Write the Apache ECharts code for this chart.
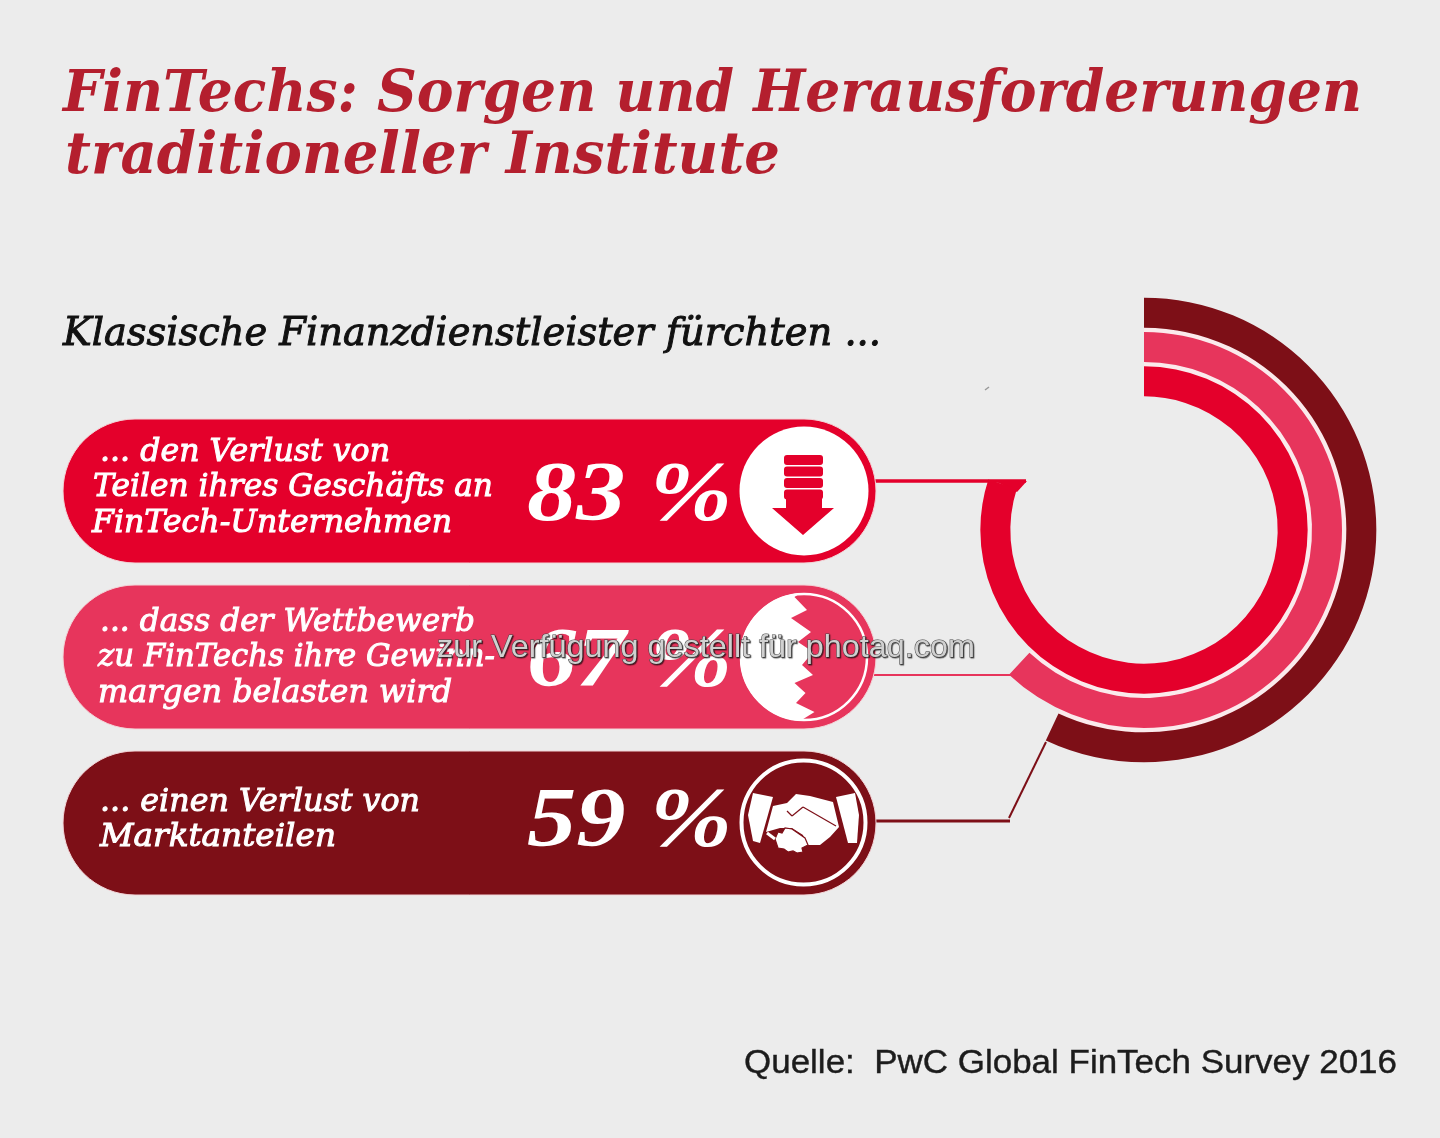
<!DOCTYPE html>
<html>
<head>
<meta charset="utf-8">
<style>
html, body { margin: 0; padding: 0; background: #ececec; }
#chart { width: 1440px; height: 1138px; }
</style>
<script src="https://cdn.jsdelivr.net/npm/echarts@6/dist/echarts.min.js"></script>
</head>
<body>
<div id="chart"></div>
<script>
// Values as printed, and how far each ring really sweeps in the picture (degrees from 12 o'clock)
const categories = ["Geschäftsverlust", "Gewinnmargen", "Marktanteile"];
const percentValues = [83, 67, 59];
const ringSweep = [288, 223, 205];
const colours = ["#e4002b", "#e7355c", "#7d0f17"];
const gapColour = "#fbeaec";
const bgColour = "#ececec";
const serif = '"DejaVu Serif", serif';
const numberSerif = '"Liberation Serif", serif';

const titleLines = ["FinTechs: Sorgen und Herausforderungen", "traditioneller Institute"];
const subtitle = "Klassische Finanzdienstleister fürchten ...";
const pillLines = [
	["... den Verlust von", "Teilen ihres Geschäfts an", "FinTech-Unternehmen"],
	["... dass der Wettbewerb", "zu FinTechs ihre Gewinn-", "margen belasten wird"],
	["... einen Verlust von", "Marktanteilen"],
];
const source = "Quelle:  PwC Global FinTech Survey 2016";
const watermark = "zur Verfügung gestellt für photaq.com";

const ctx = document.createElement("canvas").getContext("2d");

// text squeezed to a target width, canvas text has no letter spacing
function fitText(text, x, y, width, font, fill, extra) {
	ctx.font = font;
	return {
		type: "text",
		x: x,
		y: y,
		scaleX: width / ctx.measureText(text).width,
		style: Object.assign(
			{ text: text, font: font, fill: fill, textAlign: "left", textVerticalAlign: "middle" },
			extra || {}
		),
	};
}

function poly(points, fill, stroke, lineWidth) {
	return {
		type: "polygon",
		shape: { points: points },
		style: { fill: fill, stroke: stroke || null, lineWidth: lineWidth || 0 },
	};
}

function line(x1, y1, x2, y2, colour, lineWidth) {
	return {
		type: "line",
		shape: { x1: x1, y1: y1, x2: x2, y2: y2 },
		style: { stroke: colour, lineWidth: lineWidth },
	};
}

function pill(y, colour) {
	return {
		type: "rect",
		shape: { x: 63, y: y, width: 813, height: 144, r: 72 },
		style: { fill: colour, stroke: "#f3d5d8", lineWidth: 1 },
	};
}

function arrowIcon() {
	const c = colours[0];
	const rows = [455, 466.5, 478, 489.5];
	const els = [{ type: "circle", shape: { cx: 804, cy: 491, r: 64.5 }, style: { fill: "#fff" } }];
	rows.forEach((y) => {
		els.push({ type: "rect", shape: { x: 784, y: y, width: 39, height: 10, r: 3 }, style: { fill: c } });
	});
	els.push(poly([[786, 499], [822, 499], [822, 508], [834, 508], [803, 535], [772, 508], [786, 508]], c));
	return els;
}

function biteIcon() {
	const c = { x: 804, y: 657, r: 64 };
	const zigzag = [
		[800, 721], [814.5, 712], [796, 703], [805.5, 693], [794.5, 683], [813, 675], [802, 665],
		[813, 652], [798, 642], [811, 632], [791, 618], [807, 610], [794.5, 597], [800, 593],
	];
	const arc = [];
	// white side of the disc, going round the left from top to bottom
	for (let a = -94; a >= -266; a -= 4) {
		const t = (a * Math.PI) / 180;
		arc.push([c.x + c.r * Math.cos(t), c.y + c.r * Math.sin(t)]);
	}
	return [
		poly(arc.concat(zigzag), "#fff"),
		{
			type: "circle",
			shape: { cx: c.x, cy: c.y, r: c.r - 1 },
			style: { fill: "none", stroke: "#fff", lineWidth: 2.5 },
		},
	];
}

function handshakeIcon() {
	const dark = colours[2];
	return [
		{
			type: "circle",
			shape: { cx: 803.5, cy: 822.5, r: 62 },
			style: { fill: "none", stroke: "#fff", lineWidth: 4 },
		},
		poly([[753, 793], [773, 797], [760, 843], [753, 841], [748, 815]], "#fff"),
		poly([[836, 797], [855, 793], [859, 815], [857, 843], [848, 843]], "#fff"),
		poly(
			[[773, 806], [787, 803], [796, 794], [810, 796], [833, 802], [839, 827], [830, 837],
				[820, 845], [806, 845], [803, 835], [792, 828], [780, 828], [766, 832]],
			"#fff"
		),
		line(803, 807, 836, 826, dark, 1.2),
		line(787, 811, 792, 816, dark, 1.2),
		line(792, 816, 803, 807, dark, 1.2),
		poly(
			[[775, 839], [778, 832], [782, 833], [785, 828], [792, 829], [805, 838], [808, 845], [802, 848],
				[803, 852], [797, 853], [793, 851], [788, 852], [784, 849], [778, 848]],
			"#fff",
			dark,
			1.2
		),
		line(767, 833, 775, 839, "#fff", 3),
	];
}

function buildGraphic() {
	const titleFont = `italic bold 58px ${serif}`;
	const subFont = `italic 40px ${serif}`;
	const pillFont = `italic 32px ${serif}`;
	const pillY = [419, 585, 751];
	const textY = [
		[453, 488, 524],
		[623, 658, 694],
		[803, 838],
	];
	const textX = [
		[100, 93, 92],
		[100, 98, 98],
		[100, 100],
	];
	const textW = [
		[290, 400, 360],
		[375, 397, 354],
		[320, 236],
	];
	const percentY = [498, 664, 824];
	const els = [];

	els.push(fitText(titleLines[0], 63, 96, 1299, titleFont, "#b41f2e"));
	els.push(fitText(titleLines[1], 65, 158, 715, titleFont, "#b41f2e"));
	els.push(fitText(subtitle, 63, 335, 818, subFont, "#111", { stroke: "#111", lineWidth: 1 }));

	// connectors run under the pills
	els.push(line(870, 481, 1026, 481, colours[0], 3.5));
	els.push(poly([[995, 481], [1027, 481], [1017, 492]], colours[0]));
	els.push(line(870, 675, 1011, 675, colours[1], 2));
	els.push(line(870, 821, 1010, 821, colours[2], 3));
	els.push(line(1009, 818, 1046, 742, colours[2], 2));
	els.push(line(985, 390, 989, 387, "#999", 1.5));

	categories.forEach((_, i) => {
		els.push(pill(pillY[i], colours[i]));
		pillLines[i].forEach((text, j) => {
			els.push(fitText(text, textX[i][j], textY[i][j], textW[i][j], pillFont, "#fff", { stroke: "#fff", lineWidth: 1 }));
		});
		els.push(fitText(percentValues[i] + " %", 527, percentY[i], 205, `italic bold 84px ${numberSerif}`, "#fff"));
	});

	els.push(...arrowIcon(), ...biteIcon(), ...handshakeIcon());

	els.push(
		fitText(watermark, 437, 648, 538, '32px "Liberation Sans", sans-serif', "#d0d0d0", {
			stroke: "#4a4a4a",
			lineWidth: 1,
			textShadowColor: "rgba(0,0,0,0.55)",
			textShadowOffsetX: 1,
			textShadowOffsetY: 1,
			textShadowBlur: 1,
		})
	);
	els.push(fitText(source, 744, 1064, 653, '34px "Liberation Sans", sans-serif', "#1c1c1c", { stroke: "#1c1c1c", lineWidth: 0.4 }));

	return els.map((el) => Object.assign(el, { silent: true }));
}

function hiddenAxes(polarIndex, cats) {
	return {
		angle: {
			polarIndex: polarIndex,
			type: "value",
			min: 0,
			max: 360,
			startAngle: 90,
			clockwise: true,
			show: false,
		},
		radius: { polarIndex: polarIndex, type: "category", data: cats, show: false },
	};
}

// main rings plus the two pale rings showing through the gaps between them
const polarList = [
	{ center: [1144, 530], radius: [131.5, 234.5] },
	{ center: [1144, 530], radius: [158, 174] },
	{ center: [1144, 530], radius: [192, 208] },
];
const axes = [hiddenAxes(0, categories), hiddenAxes(1, ["innen"]), hiddenAxes(2, ["aussen"])];

const chart = echarts.init(document.getElementById("chart"), null, { renderer: "canvas" });
chart.setOption({
	animation: false,
	backgroundColor: bgColour,
	polar: polarList,
	angleAxis: axes.map((a) => a.angle),
	radiusAxis: axes.map((a) => a.radius),
	series: [
		{
			type: "bar",
			coordinateSystem: "polar",
			polarIndex: 1,
			angleAxisIndex: 1,
			radiusAxisIndex: 1,
			barWidth: 16,
			silent: true,
			z: 1,
			data: [{ value: ringSweep[1], itemStyle: { color: gapColour } }],
		},
		{
			type: "bar",
			coordinateSystem: "polar",
			polarIndex: 2,
			angleAxisIndex: 2,
			radiusAxisIndex: 2,
			barWidth: 16,
			silent: true,
			z: 1,
			data: [{ value: ringSweep[2], itemStyle: { color: gapColour } }],
		},
		{
			type: "bar",
			coordinateSystem: "polar",
			polarIndex: 0,
			barWidth: 30,
			silent: true,
			z: 2,
			data: ringSweep.map((v, i) => ({ value: v, itemStyle: { color: colours[i] } })),
		},
	],
	graphic: { elements: buildGraphic() },
});
</script>
</body>
</html>
